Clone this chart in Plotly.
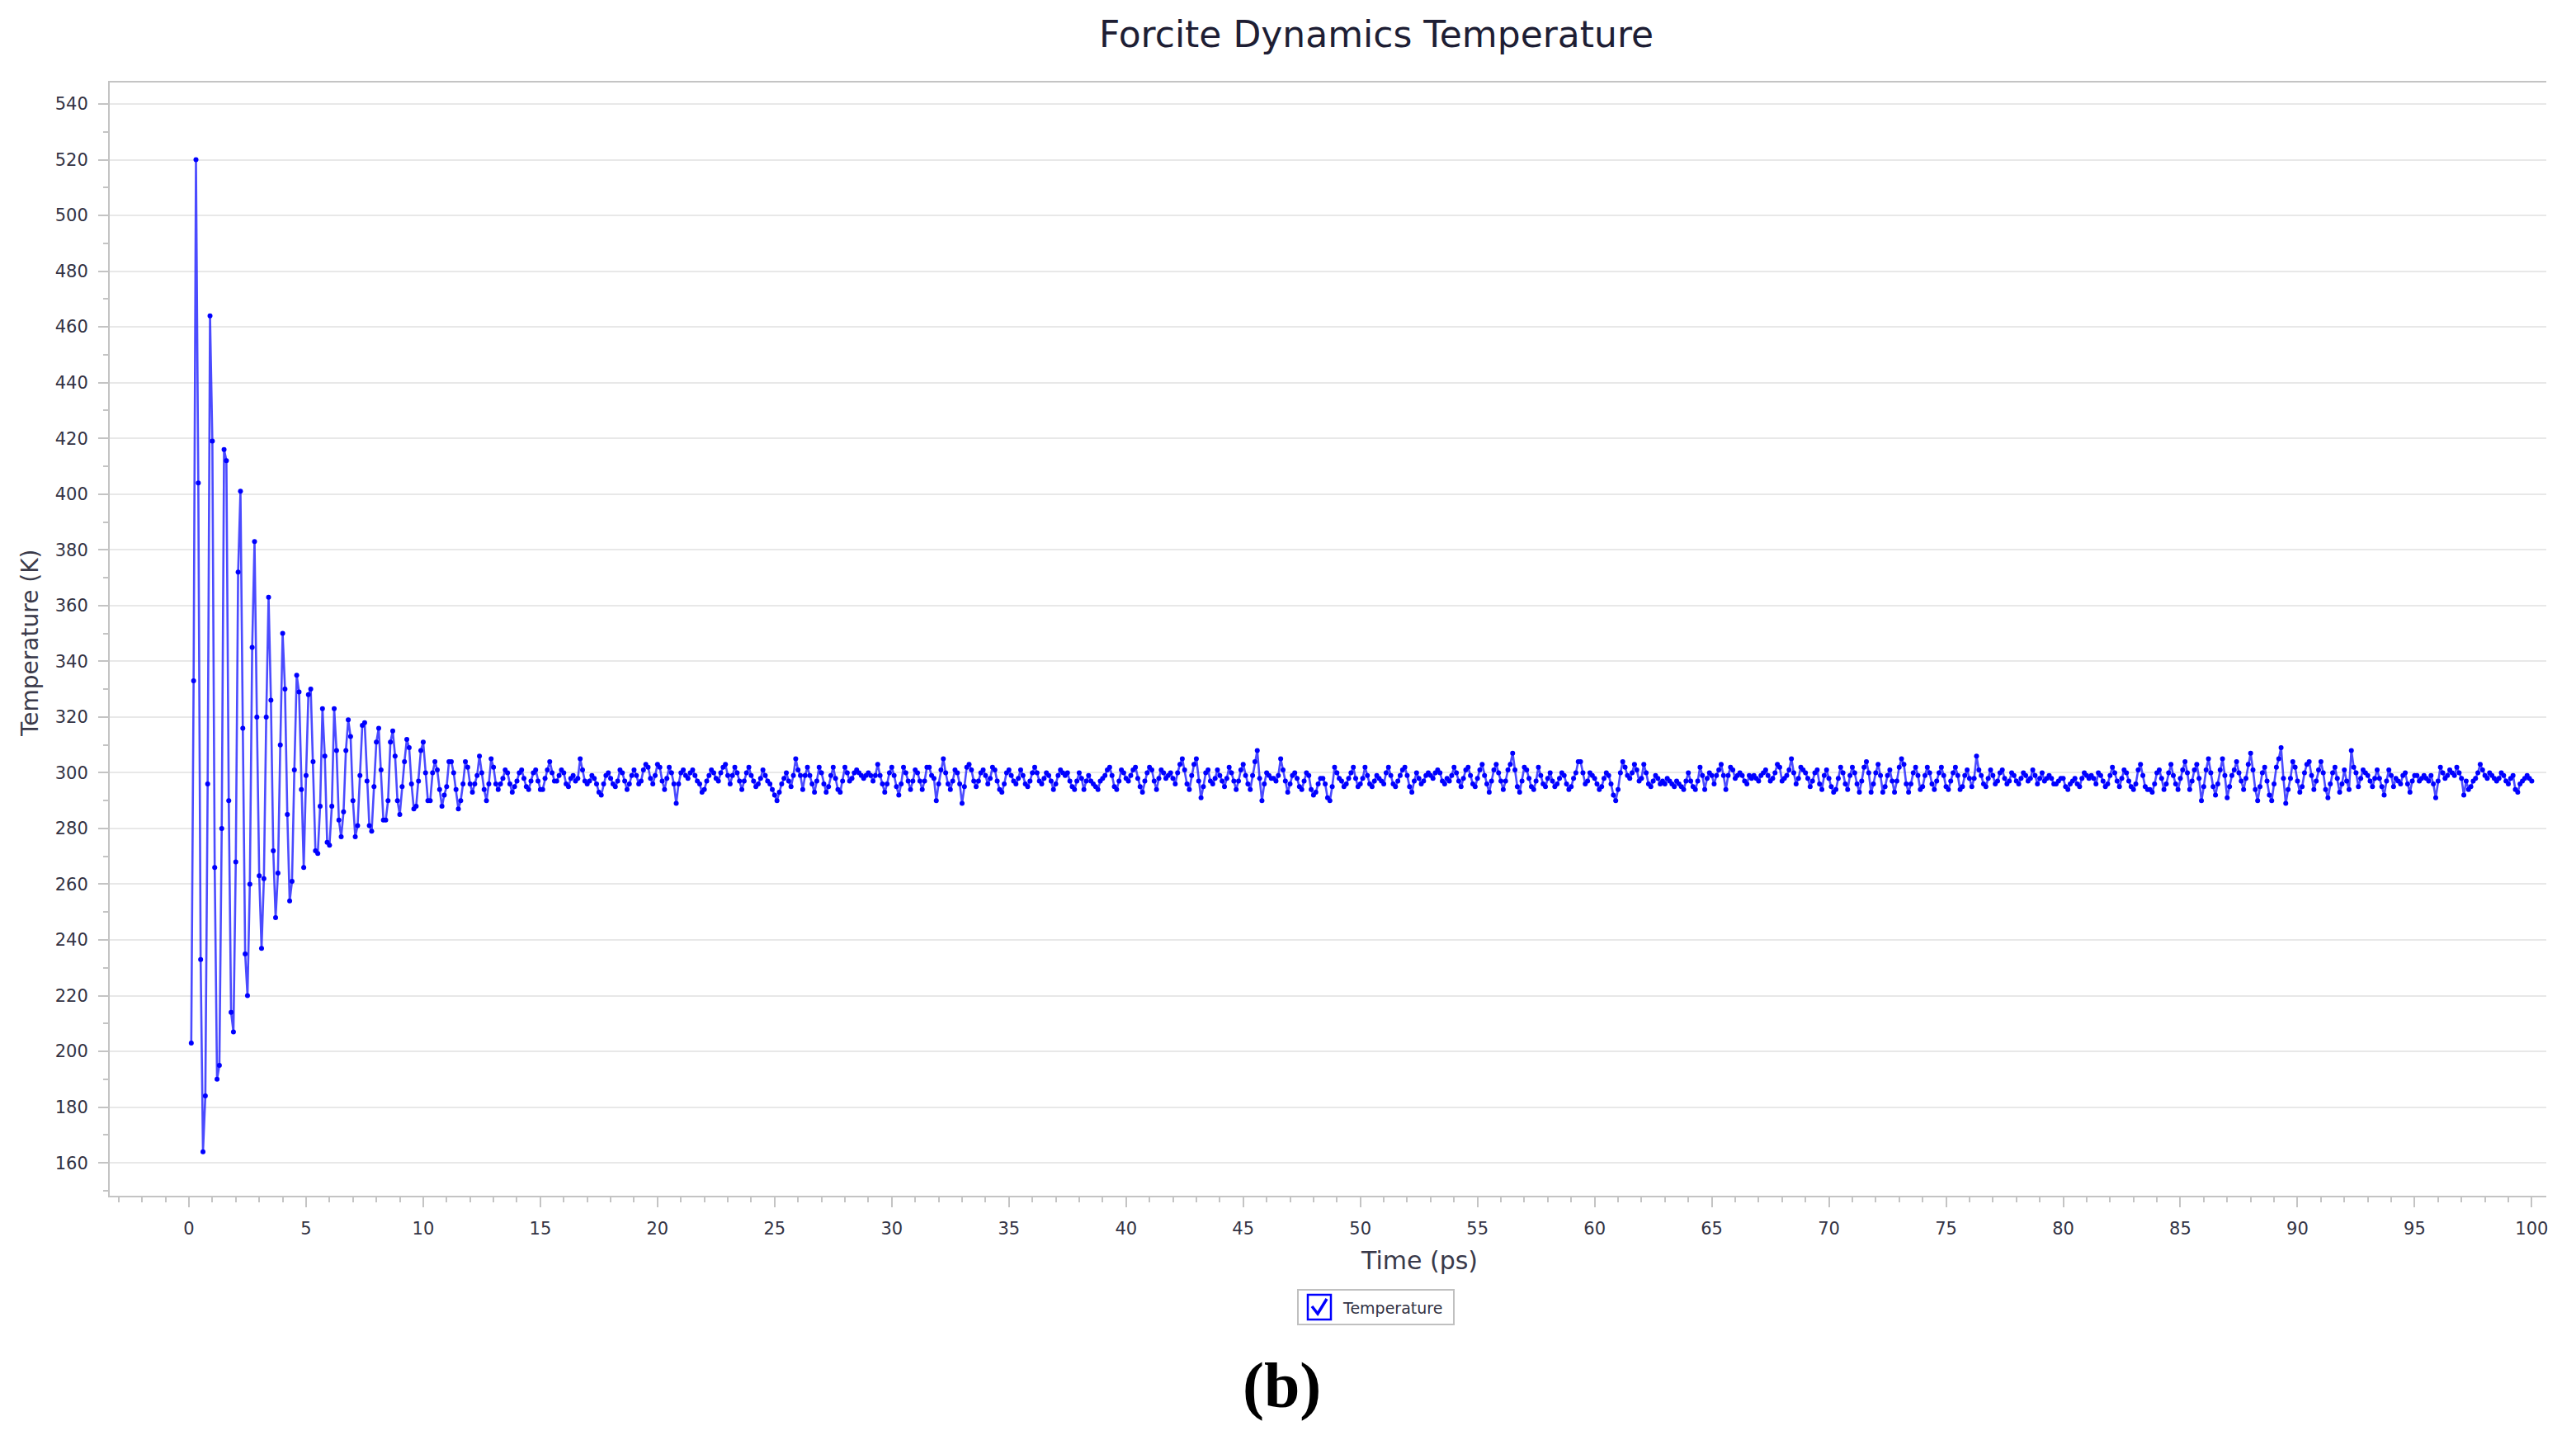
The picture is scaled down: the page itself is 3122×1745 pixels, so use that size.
import plotly.graph_objects as go

# ---------------- data ----------------
transient_K = [
    203, 333, 520, 404, 233, 164, 184, 296, 464, 419,
    266, 190, 195, 280, 416, 412, 290, 214, 207, 268,
    372, 401, 316, 235, 220, 260, 345, 383, 320, 263,
    237, 262, 320, 363, 326, 272, 248, 264, 310, 350,
    330, 285, 254, 261, 301, 335, 329, 294, 266, 299,
    328, 330, 304, 272, 271, 288, 323, 306, 275, 274,
    288, 323, 308, 283, 277, 286, 308, 319, 313, 290,
    277, 281, 299, 317, 318, 297, 281, 279, 295, 311,
    316, 301, 283, 283, 290, 311, 315, 306, 290, 285,
    295, 304, 312, 309, 296, 287, 288, 297, 308, 311,
    300, 290, 290, 300, 304, 301, 294, 288, 292, 295,
    304, 304, 300, 294, 287, 290, 296, 304, 302, 296,
    293, 296, 299, 306, 300, 294, 290, 296, 305, 302,
    296, 294, 296, 298, 301, 300, 296, 293, 295, 297,
    300, 301, 298, 295, 294, 297, 300, 301, 297, 294,
    294, 298, 301, 304, 300, 297, 297, 299, 301, 300,
    296, 295, 298, 299,
]

segment_a_K = [
    297, 298, 305, 301, 297, 296, 297, 299, 298, 296,
    293, 292, 296, 299, 300, 298, 296, 295, 297, 301,
    300, 297, 294, 296, 299, 301, 299, 296, 297, 301,
    303, 302, 298, 296, 299, 303, 302, 297, 294, 298,
    302, 300, 296, 289, 296, 300, 301, 299, 298, 300,
    301, 299, 297, 296, 293, 294, 297, 299, 301, 300,
    298, 297, 300, 302, 303, 299, 296, 299, 302, 300,
    297, 294, 297, 300, 302, 299, 297, 295, 296, 298,
    301, 299, 297, 296, 294, 292, 290, 293, 296, 298,
    300, 297, 295, 299, 305, 301, 299, 294, 299, 302,
    299, 296, 293, 297, 302, 300, 296, 293, 295, 299,
    302, 298, 294, 293, 297, 302, 300, 297, 298, 300,
    301, 300, 299, 298, 299, 300, 299, 297, 299, 303,
    299, 296, 293, 296, 300, 302, 299, 295, 292, 296,
    302, 300, 297, 294, 297, 301, 300, 297, 294, 297,
    302, 302, 299, 298, 290, 296, 301, 305, 300, 296,
    294, 297, 301, 300, 296, 289, 295, 302, 303, 301,
    297, 295, 297, 300, 301, 299, 296, 298, 302, 301,
    297, 294, 293, 296, 300, 301, 299, 297, 296, 298,
    301, 299, 296, 295, 297, 300, 302, 300, 297, 296,
    298, 300, 299, 297, 294, 296, 299, 301, 300,
]

segment_b_K = [
    299, 300, 297, 295, 294, 297, 300, 298, 294, 297,
    299, 297, 296, 295, 294, 297, 298, 299, 301, 302,
    299, 295, 294, 297, 301, 300, 298, 297, 299, 301,
    302, 298, 295, 293, 297, 300, 302, 301, 297, 294,
    298, 301, 300, 298, 299, 300, 298, 296, 300, 303,
    305, 301, 296, 294, 299, 303, 305, 297, 291, 295,
    300, 301, 297, 296, 298, 301, 299, 297, 295, 298,
    302, 300, 297, 294, 297, 301, 303, 299, 296, 294,
    299, 304, 308, 298, 290, 296, 300, 299, 298, 298,
    297, 299, 305, 301, 297, 293, 296, 299, 300, 298,
    295, 294, 297, 300, 299, 294, 292, 293, 296, 298,
    298, 296, 291, 290, 295, 302, 300, 298, 297, 295,
    296, 298, 300, 302, 298, 295, 296, 298, 302, 299,
    296, 295, 297, 299, 298, 297, 296, 300, 302, 299,
    296, 295, 297, 299, 301, 302, 299, 295, 293, 297,
    300, 298, 296, 297, 299, 300, 299, 298, 300, 301,
    300, 297, 296, 298, 297, 299, 302, 300, 297, 295,
    298, 301, 302, 299, 296, 295, 298, 301, 303, 299,
    296, 293, 297, 301, 303, 300, 297, 294, 297, 301,
    303, 307, 301, 295, 293, 297, 302, 301, 298, 295,
    294, 297, 302, 299, 296, 295, 298, 300, 297,
]

segment_c_K = [
    295, 296, 298, 300, 299, 296, 294, 295, 298, 300,
    304, 304, 300, 296, 297, 300, 299, 298, 296, 294,
    295, 298, 300, 299, 296, 292, 290, 294, 300, 304,
    302, 299, 298, 300, 303, 301, 297, 298, 303, 300,
    296, 295, 297, 299, 298, 296, 297, 296, 298, 297,
    296, 295, 297, 296, 295, 294, 297, 300, 297, 295,
    294, 297, 302, 299, 294, 298, 300, 299, 296, 299,
    301, 303, 299, 294, 299, 302, 301, 298, 299, 300,
    299, 297, 296, 299, 298, 299, 298, 297, 299, 300,
    301, 299, 297, 298, 300, 303, 302, 297, 298, 299,
    301, 305, 300, 296, 298, 302, 301, 300, 298, 295,
    297, 300, 301, 296, 294, 299, 301, 298, 295, 293,
    294, 298, 302, 300, 296, 294, 299, 302, 300, 296,
    293, 297, 302, 304, 300, 293, 296, 300, 303, 299,
    293, 295, 299, 301, 297, 293, 297, 302, 305, 303,
    296, 293, 296, 300, 302, 299, 294, 295, 299, 302,
    300, 296, 294, 297, 300, 302, 299, 295, 294, 297,
    300, 302, 299, 294, 295, 299, 301, 298, 295, 298,
    306, 301, 299, 296, 295, 298, 301, 299, 296, 297,
    300, 301, 298, 296, 297, 300, 299, 297, 296, 298,
    300, 299, 297, 298, 301, 299, 296, 298, 300,
]

segment_d_K = [
    297, 298, 299, 298, 296, 296, 297, 298, 298, 295,
    294, 296, 297, 298, 296, 295, 298, 300, 299, 298,
    299, 298, 296, 300, 299, 297, 295, 296, 299, 302,
    300, 297, 295, 298, 301, 300, 297, 295, 294, 296,
    301, 303, 299, 295, 294, 294, 293, 296, 300, 301,
    298, 294, 296, 300, 303, 299, 296, 294, 298, 301,
    304, 300, 294, 297, 301, 303, 298, 290, 295, 301,
    305, 300, 295, 292, 296, 301, 305, 299, 291, 295,
    299, 301, 304, 300, 297, 294, 298, 303, 307, 301,
    294, 290, 295, 300, 302, 297, 292, 290, 296, 302,
    305, 309, 298, 289, 294, 298, 304, 302, 297, 293,
    295, 300, 303, 304, 299, 294, 297, 301, 304, 300,
    294, 291, 296, 300, 302, 298, 293, 296, 301, 297,
    294, 308, 302, 300, 295, 298, 301, 300, 299, 297,
    295, 298, 301, 298, 295, 292, 297, 301, 299, 295,
    298, 297, 296, 299, 300, 296, 293, 297, 299, 299,
    297, 298, 299, 298, 297, 299, 296, 291, 297, 302,
    300, 298, 299, 301, 300, 299, 302, 300, 298, 292,
    297, 294, 295, 297, 298, 300, 303, 301, 299, 298,
    300, 299, 298, 297, 298, 300, 299, 297, 296, 298,
    299, 294, 293, 296, 297, 298, 299, 298, 297,
]

temperature_K = transient_K + segment_a_K + segment_b_K + segment_c_K + segment_d_K
time_step_ps = 0.1
time_ps = [round(time_step_ps * (i + 1), 1) for i in range(len(temperature_K))]

x_ticks = list(range(0, 101, 5))
y_ticks = list(range(160, 541, 20))

chart_title = "Forcite Dynamics Temperature"
x_title = "Time (ps)"
y_title = "Temperature (K)"
series_name = "Temperature"
panel_label = "(b)"

# ---------------- figure ----------------
OFF = 8                      # page body margin of the written html
W, H = 3122 - 2 * OFF, 1745 - 2 * OFF
PL, PT, PW, PH = 133, 100, 2953, 1349   # plot area in page pixels
L, T = PL - OFF, PT - OFF
R, B = W - L - PW, H - T - PH

def px(xpix):
    return (xpix - PL) / PW

def py(ypix):
    return (PT + PH - ypix) / PH

TEXT = "#2a2a3a"
AXIS = "#c4c4c4"
BLUE = "#0000ff"

fig = go.Figure()
fig.add_trace(go.Scatter(
    x=time_ps, y=temperature_K, mode="lines+markers", name=series_name,
    line=dict(color="rgba(30,30,255,0.8)", width=2.6),
    marker=dict(color=BLUE, size=6),
    showlegend=False,
))

fig.update_layout(
    width=W, height=H,
    margin=dict(l=L, r=R, t=T, b=B),
    paper_bgcolor="white", plot_bgcolor="white",
    font=dict(family="DejaVu Sans", color=TEXT),
    title=dict(text=chart_title, x=px(1668), xref="paper", xanchor="center",
               y=1 - (42 - OFF) / H, yref="container", yanchor="middle",
               font=dict(size=44, color="#1e1e34")),
)

fig.update_xaxes(
    range=[-3.38, 100.62], tickvals=x_ticks, showgrid=False, zeroline=False,
    showline=True, linecolor=AXIS, linewidth=2, mirror=True,
    ticks="outside", ticklen=12, tickwidth=2, tickcolor=AXIS,
    tickfont=dict(size=21, color="#333344"), ticklabelstandoff=8,
    minor=dict(dtick=1, tick0=0, ticks="outside", ticklen=6, tickwidth=1.5,
               tickcolor=AXIS, showgrid=False),
)
fig.update_yaxes(
    range=[148.2, 547.7], tickvals=y_ticks, showgrid=True, gridcolor="#e8e8e8",
    gridwidth=1.5, zeroline=False,
    showline=True, linecolor=AXIS, linewidth=2, mirror=False,
    ticks="outside", ticklen=12, tickwidth=2, tickcolor=AXIS,
    tickfont=dict(size=21, color="#333344"), ticklabelstandoff=8,
    minor=dict(dtick=10, tick0=0, ticks="outside", ticklen=6, tickwidth=1.5,
               tickcolor=AXIS, showgrid=False),
)

ann = []
ann.append(dict(text=x_title, x=px(1720), y=py(1527), xref="paper", yref="paper",
                xanchor="center", yanchor="middle", showarrow=False,
                font=dict(size=30, color="#3a3a4a")))
ann.append(dict(text=y_title, x=px(36), y=py(780), xref="paper", yref="paper",
                xanchor="center", yanchor="middle", showarrow=False, textangle=-90,
                font=dict(size=28, color="#3a3a4a")))
ann.append(dict(text=series_name, x=px(1625), y=py(1585), xref="paper", yref="paper",
                xanchor="left", yanchor="middle", showarrow=False,
                font=dict(size=19, color="#333344")))
ann.append(dict(text="<b>" + panel_label + "</b>", x=px(1553), y=py(1678),
                xref="paper", yref="paper", xanchor="center", yanchor="middle",
                showarrow=False,
                font=dict(size=78, color="black", family="Liberation Serif")))
fig.update_layout(annotations=ann)

shapes = []
# legend frame
shapes.append(dict(type="rect", xref="paper", yref="paper",
                   x0=px(1573), x1=px(1762), y0=py(1605), y1=py(1563),
                   line=dict(color="#c0c0c0", width=2), fillcolor="white"))
# checkbox
shapes.append(dict(type="rect", xref="paper", yref="paper",
                   x0=px(1585), x1=px(1613), y0=py(1599), y1=py(1569),
                   line=dict(color=BLUE, width=2.5), fillcolor="white"))
# check mark
cx0, cy0 = px(1590), py(1583)
cx1, cy1 = px(1597), py(1592)
cx2, cy2 = px(1608), py(1574)
shapes.append(dict(type="path", xref="paper", yref="paper",
                   path=f"M {cx0} {cy0} L {cx1} {cy1} L {cx2} {cy2}",
                   line=dict(color=BLUE, width=3.5)))
fig.update_layout(shapes=shapes)

fig.write_html("out.html")
